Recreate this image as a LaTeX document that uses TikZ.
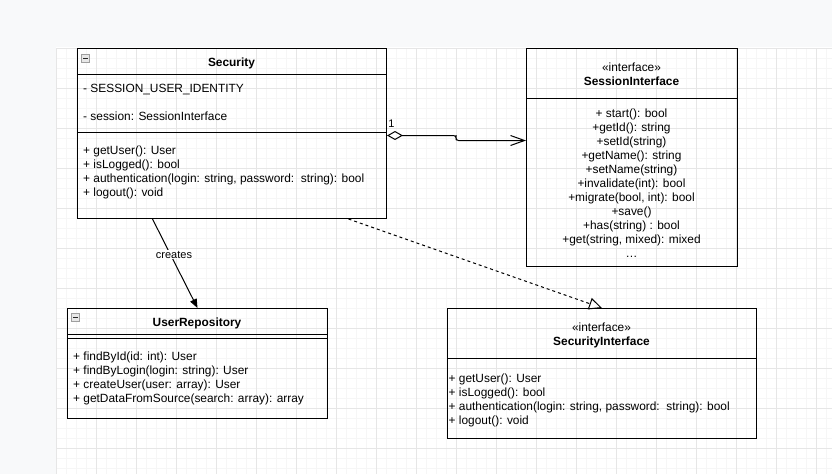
\documentclass[tikz,border=0pt]{standalone}
\usepackage{fontspec}
\setmainfont{Liberation Sans}
\usetikzlibrary{arrows.meta}
\usetikzlibrary{calc}

\definecolor{canvasgrey}{HTML}{F8F9FA}
\definecolor{gridminor}{HTML}{F6F6F6}
\definecolor{gridmajor}{HTML}{E6E6E6}

\begin{document}
\begin{tikzpicture}[x=1pt, y=-1pt,
    classbox/.style={draw, line width=1pt, anchor=north west, inner sep=0pt},
    member/.style={anchor=base west, inner sep=0pt, font=\fontsize{11.9}{14}\selectfont},
    cmember/.style={member, anchor=base},
    classname/.style={cmember, font=\fontsize{11.9}{14}\selectfont\bfseries},
    tag/.style={anchor=base, inner sep=1pt, font=\fontsize{11}{13}\selectfont},
    foldicon/.style={draw=gray!75, fill=gray!18, minimum size=8pt, inner sep=0pt, line width=0.8pt},
    uses/.style={line width=1pt, -{Triangle[length=9pt, width=7pt]}},
    aggregation/.style={line width=1pt, {Diamond[open, length=16pt, width=9pt]}-{Straight Barb[length=14pt, width=10pt]}},
    realizes/.style={line width=1pt, dash pattern=on 3pt off 3pt, -{Triangle[open, length=13pt, width=12pt]}}]

  % canvas and grid
  \useasboundingbox (0,0) rectangle (832,474);
  \fill[canvasgrey] (0,0) rectangle (832,474);
  \fill[white] (56,47) rectangle (832,474);
  \foreach \x in {56,66,...,832} \draw[gridminor] (\x,48) -- (\x,474);
  \foreach \y in {48,58,...,474} \draw[gridminor] (56,\y) -- (832,\y);
  \foreach \x in {56,96,...,832} \draw[gridmajor] (\x,48) -- (\x,474);
  \foreach \y in {48,88,...,474} \draw[gridmajor] (56,\y) -- (832,\y);

  % Security
  \node[classbox, minimum width=309pt, minimum height=170pt] (security) at (77,48) {};
  \draw[line width=1pt] ([yshift=-26pt]security.north west) -- ([yshift=-26pt]security.north east);
  \draw[line width=1pt] ([yshift=-84pt]security.north west) -- ([yshift=-84pt]security.north east);
  \node[foldicon] (securityfold) at (85.5,58) {};
  \draw[line width=1pt, gray!30!black] ([xshift=2pt]securityfold.west) -- ([xshift=-2pt]securityfold.east);
  \node[classname] (securityname) at (231.5,66) {Security};
  \node[member] (securitya1) at (83,92) {- SESSION\_USER\_IDENTITY};
  \node[member] (securitya2) at (83,120) {- session: SessionInterface};
  \foreach \txt [count=\i] in {{+ getUser(): User}, {+ isLogged(): bool},
      {+ authentication(login: string, password:\ \ string): bool}, {+ logout(): void}}
    \node[member] (securitym\i) at (83,140+14*\i) {\txt};

  % SessionInterface
  \node[classbox, minimum width=211pt, minimum height=218pt] (sessioniface) at (526,48) {};
  \draw[line width=1pt] ([yshift=-50pt]sessioniface.north west) -- ([yshift=-50pt]sessioniface.north east);
  \node[cmember] (sessionstereo) at (631.5,71) {«interface»};
  \node[classname] (sessionname) at (631.5,85) {SessionInterface};
  \foreach \txt [count=\i] in {{+ start(): bool}, {+getId(): string}, {+setId(string)},
      {+getName(): string}, {+setName(string)}, {+invalidate(int): bool},
      {+migrate(bool, int): bool}, {+save()}, {+has(string) : bool},
      {+get(string, mixed): mixed}}
    \node[cmember] (sessionm\i) at (631.5,103+14*\i) {\txt};
  \node[cmember] (sessionmore) at (631.5,257) {\ldots};

  % UserRepository
  \node[classbox, minimum width=260pt, minimum height=110pt] (userrepo) at (67,308) {};
  \draw[line width=1pt] ([yshift=-26pt]userrepo.north west) -- ([yshift=-26pt]userrepo.north east);
  \draw[line width=1pt] ([yshift=-30pt]userrepo.north west) -- ([yshift=-30pt]userrepo.north east);
  \node[foldicon] (userrepofold) at (75.7,317.3) {};
  \draw[line width=1pt, gray!30!black] ([xshift=2pt]userrepofold.west) -- ([xshift=-2pt]userrepofold.east);
  \node[classname] (userreponame) at (197,326) {UserRepository};
  \foreach \txt [count=\i] in {{+ findById(id: int): User}, {+ findByLogin(login: string): User},
      {+ createUser(user: array): User}, {+ getDataFromSource(search: array): array}}
    \node[member] (userrepom\i) at (73,346+14*\i) {\txt};

  % SecurityInterface
  \node[classbox, minimum width=309pt, minimum height=130pt] (securityiface) at (447,308) {};
  \draw[line width=1pt] ([yshift=-50pt]securityiface.north west) -- ([yshift=-50pt]securityiface.north east);
  \node[cmember] (ifacestereo) at (601.5,331) {«interface»};
  \node[classname] (ifacename) at (601.5,345) {SecurityInterface};
  \foreach \txt [count=\i] in {{+ getUser(): User}, {+ isLogged(): bool},
      {+ authentication(login: string, password:\ \ string): bool}, {+ logout(): void}}
    \node[member] (ifacem\i) at (448.5,368+14*\i) {\txt};

  % connectors
  \coordinate (hop) at (456,137.5);
  \draw[aggregation, rounded corners=2.5pt] ([yshift=-2pt]security.east) -| (hop) |- ([yshift=17pt]sessioniface.west);
  \node[tag] (multiplicity) at (391.5,127) {1};
  \draw[uses] ([xshift=-79.5pt]security.south) -- (userrepo.north)
    node[pos=0.4, xshift=3.5pt, fill=white, inner sep=1pt, font=\fontsize{11}{13}\selectfont] (createslabel) {creates};
  \draw[realizes] ([xshift=116.5pt]security.south) -- (securityiface.north);
\end{tikzpicture}
\end{document}
